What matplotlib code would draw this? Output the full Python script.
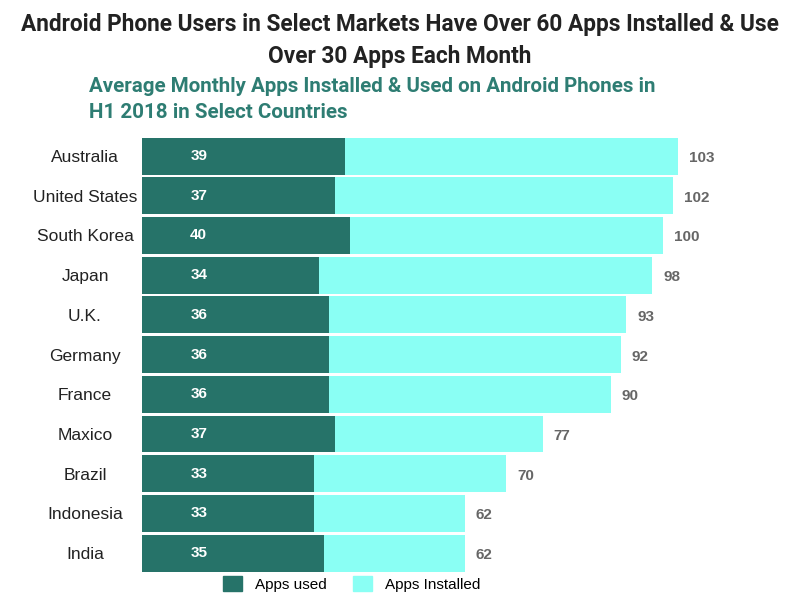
import matplotlib
matplotlib.use("Agg")
import matplotlib.pyplot as plt
from matplotlib.patches import Patch
from matplotlib import font_manager

countries = ["Australia", "United States", "South Korea", "Japan", "U.K.", "Germany",
             "France", "Maxico", "Brazil", "Indonesia", "India"]
apps_used = [39, 37, 40, 34, 36, 36, 36, 37, 33, 33, 35]
apps_installed = [103, 102, 100, 98, 93, 92, 90, 77, 70, 62, 62]

title = "Android Phone Users in Select Markets Have Over 60 Apps Installed & Use\nOver 30 Apps Each Month"
subtitle = "Average Monthly Apps Installed & Used on Android Phones in\nH1 2018 in Select Countries"

names = {f.name for f in font_manager.fontManager.ttflist}
narrow = "Liberation Sans Narrow" if "Liberation Sans Narrow" in names else "Roboto"
plt.rcParams['font.family'] = ['Liberation Sans', 'DejaVu Sans']

DARK = "#267369"
LIGHT = "#8afff4"

fig = plt.figure(figsize=(8, 6), dpi=100)
ax = fig.add_axes([0.1775, 0.045, 0.8225, 0.728])

y = list(range(len(countries)))
ax.barh(y, apps_installed, height=0.93, color=LIGHT, label="Apps Installed")
ax.barh(y, apps_used, height=0.93, color=DARK, label="Apps used")
ax.set_ylim(len(countries) - 0.5, -0.5)
ax.set_xlim(0, 126.4)

for i, (u, t) in enumerate(zip(apps_used, apps_installed)):
    ax.text(10.9, i, str(u), color="white", fontweight="bold", fontsize=11,
            ha="center", va="center")
    ax.text(t + 2.1, i + 0.05, str(t), color="#666666", fontweight="bold", fontsize=11,
            ha="left", va="center")

ax.set_yticks(y)
ax.set_yticklabels(countries, fontsize=12.5, color="#222222")
for lab in ax.get_yticklabels():
    lab.set_ha("center")
ax.tick_params(axis="y", length=0, pad=41)
ax.set_xticks([])
for s in ax.spines.values():
    s.set_visible(False)

fig.text(0.5, 0.932, title, ha="center", va="center", fontsize=16.3, fontweight="bold",
         family=[narrow, 'DejaVu Sans'], color="#222222", linespacing=1.5)
fig.text(0.111, 0.834, subtitle, ha="left", va="center", fontsize=14.8, fontweight="bold",
         family=[narrow, 'DejaVu Sans'], color="#2e7d73", linespacing=1.5)

handles = [Patch(color=DARK, label="Apps used"), Patch(color=LIGHT, label="Apps Installed")]
fig.legend(handles=handles, loc="center", bbox_to_anchor=(0.44, 0.027), ncol=2,
           frameon=False, fontsize=11, handlelength=1.2, handleheight=1.2,
           columnspacing=1.7, handletextpad=0.9)

fig.savefig("out.png", dpi=100)
